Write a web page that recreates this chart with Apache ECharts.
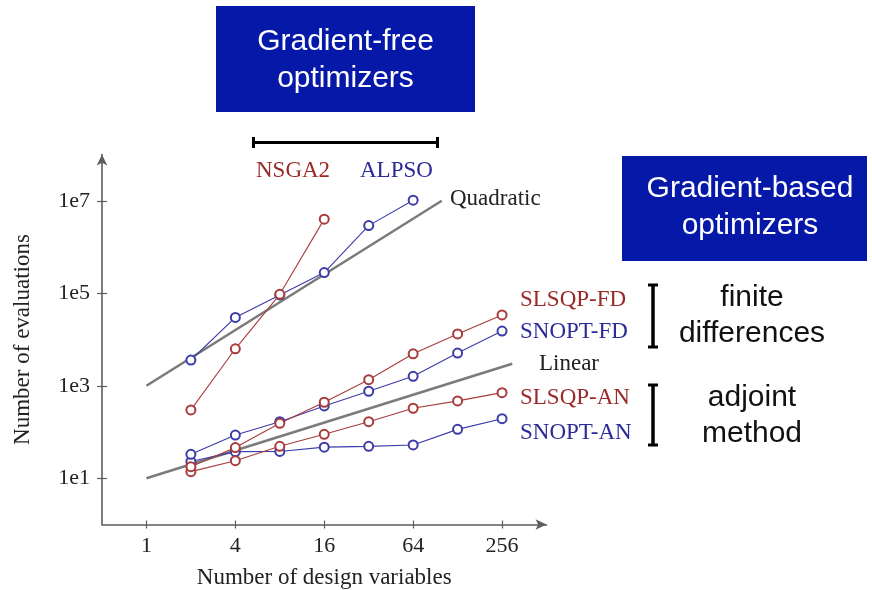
<!DOCTYPE html>
<html>
<head>
<meta charset="utf-8">
<script src="https://cdn.jsdelivr.net/npm/echarts@6/dist/echarts.min.js"></script>
<style>
  html, body { margin: 0; padding: 0; background: #ffffff; }
  #chart { width: 872px; height: 590px; }
</style>
</head>
<body>
<div id="chart"></div>
<script>
// Tick values on the log-log axes
const xTicks = [1, 4, 16, 64, 256];
const yTicks = [10, 1000, 100000, 10000000];

// Number of design variables for each run
const designVars = [2, 4, 8, 16, 32, 64, 128, 256];

// Function evaluations per optimizer
const nsga2   = [300, 6300, 95000, 4000000];                     // 2 .. 16 variables
const alpso   = [3600, 30000, 92000, 280000, 2900000, 10300000]; // 2 .. 64 variables
const slsqpFD = [17.8, 46, 154, 440, 1350, 4900, 13200, 34000];
const snoptFD = [33, 86, 167, 366, 760, 1600, 5100, 15200];
const slsqpAN = [13.9, 24, 49, 89, 167, 326, 470, 710];
const snoptAN = [23, 37.6, 38, 47, 49, 52.5, 114, 194];

// Reference scaling lines (end points)
const quadraticRef = [[1, 1000], [100, 10000000]];
const linearRef    = [[1, 10], [300, 3000]];

const RED = '#a83c3c';
const BLUE = '#3c3ca8';
const RED_TXT = '#9a2a2a';
const BLUE_TXT = '#2a2a98';
const AXIS = '#5e5e5e';
const SERIF = '"Liberation Serif", "DejaVu Serif", serif';
const SANS = '"Liberation Sans", Arial, sans-serif';
const BOX = '#0618a8';

const pair = vals => vals.map((v, i) => [designVars[i], v]);

const gridBox = { left: 102, top: 154.5, width: 444.5, height: 370, containLabel: false, outerBoundsMode: 'none' };

function markerSeries(name, vals, color) {
  return {
    name, type: 'line', xAxisIndex: 0, yAxisIndex: 0,
    data: pair(vals),
    symbol: 'emptyCircle', symbolSize: 9,
    itemStyle: { color, borderWidth: 1.1 },
    lineStyle: { color, width: 1.1 },
    z: 3, animation: false
  };
}
function refSeries(name, pts) {
  return {
    name, type: 'line', xAxisIndex: 0, yAxisIndex: 0,
    data: pts, symbol: 'none',
    lineStyle: { color: '#7b7b7b', width: 2.6 },
    z: 2, animation: false
  };
}

const tickLabelStyle = { fontFamily: SERIF, fontSize: 22, color: '#222' };

const chart = echarts.init(document.getElementById('chart'), null, { renderer: 'canvas' });

function bracketV(x, y1, y2) {
  return [
    { type: 'line', shape: { x1: x, y1: y1, x2: x, y2: y2 }, style: { stroke: '#000', lineWidth: 3.5 } },
    { type: 'line', shape: { x1: x - 5, y1: y1, x2: x + 5, y2: y1 }, style: { stroke: '#000', lineWidth: 3 } },
    { type: 'line', shape: { x1: x - 5, y1: y2, x2: x + 5, y2: y2 }, style: { stroke: '#000', lineWidth: 3 } }
  ];
}
function serifText(text, x, y, color, align) {
  return { type: 'text', x, y, style: { text, fill: color, font: '23px ' + SERIF, textAlign: align || 'left', textVerticalAlign: 'middle' } };
}
function sansText(text, x, y, color) {
  return { type: 'text', x, y, style: { text, fill: color, font: '30px ' + SANS, textAlign: 'center', textVerticalAlign: 'middle' } };
}

const option = {
  backgroundColor: '#ffffff',
  animation: false,
  grid: [
    Object.assign({}, gridBox),
    Object.assign({}, gridBox)
  ],
  xAxis: [
    {
      type: 'log', logBase: 2, min: 0.5, max: 512, gridIndex: 0,
      axisLine: { show: true, lineStyle: { color: AXIS, width: 1.6 }, symbol: ['none', 'arrow'], symbolSize: [8, 11] },
      axisTick: { show: true, length: 4, customValues: xTicks, lineStyle: { color: AXIS, width: 1.2 } },
      axisLabel: Object.assign({ customValues: xTicks, margin: 11, formatter: v => String(Math.round(v)) }, tickLabelStyle),
      splitLine: { show: false }, minorTick: { show: false },
      name: 'Number of design variables', nameLocation: 'middle', nameGap: 42,
      nameTextStyle: { fontFamily: SERIF, fontSize: 23, color: '#222' }
    },
    {
      type: 'log', logBase: 2, min: 0.5, max: 512, gridIndex: 1,
      axisLine: { show: false },
      axisTick: { show: true, inside: true, length: 4, customValues: xTicks, lineStyle: { color: AXIS, width: 1.2 } },
      axisLabel: { show: false }, splitLine: { show: false }
    }
  ],
  yAxis: [
    {
      type: 'log', logBase: 10, min: 1, max: 1e8, gridIndex: 0,
      axisLine: { show: true, lineStyle: { color: AXIS, width: 1.6 }, symbol: ['none', 'arrow'], symbolSize: [8, 11] },
      axisTick: { show: true, length: 5, customValues: yTicks, lineStyle: { color: AXIS, width: 1.2 } },
      axisLabel: Object.assign({ customValues: yTicks, margin: 12, formatter: v => '1e' + Math.round(Math.log10(v)) }, tickLabelStyle),
      splitLine: { show: false }, minorTick: { show: false },
      name: 'Number of evaluations', nameLocation: 'middle', nameGap: 68, nameRotate: 90,
      nameTextStyle: { fontFamily: SERIF, fontSize: 23, color: '#222' }
    },
    {
      type: 'log', logBase: 10, min: 1, max: 1e8, gridIndex: 1,
      axisLine: { show: false },
      axisTick: { show: true, inside: true, length: 5, customValues: yTicks, lineStyle: { color: AXIS, width: 1.2 } },
      axisLabel: { show: false }, splitLine: { show: false }
    }
  ],
  series: [
    refSeries('Quadratic', quadraticRef),
    refSeries('Linear', linearRef),
    markerSeries('SNOPT-AN', snoptAN, BLUE),
    markerSeries('SLSQP-AN', slsqpAN, RED),
    markerSeries('SNOPT-FD', snoptFD, BLUE),
    markerSeries('SLSQP-FD', slsqpFD, RED),
    markerSeries('ALPSO', alpso, BLUE),
    markerSeries('NSGA2', nsga2, RED)
  ],
  graphic: [
    // Gradient-free heading
    { type: 'rect', shape: { x: 216, y: 6, width: 259, height: 106 }, style: { fill: BOX } },
    sansText('Gradient-free', 345.5, 42, '#ffffff'),
    sansText('optimizers', 345.5, 79, '#ffffff'),
    { type: 'line', shape: { x1: 253.5, y1: 142.5, x2: 437.5, y2: 142.5 }, style: { stroke: '#000', lineWidth: 3 } },
    { type: 'line', shape: { x1: 253.5, y1: 137, x2: 253.5, y2: 148 }, style: { stroke: '#000', lineWidth: 3 } },
    { type: 'line', shape: { x1: 437.5, y1: 137, x2: 437.5, y2: 148 }, style: { stroke: '#000', lineWidth: 3 } },
    serifText('NSGA2', 256, 171, RED_TXT),
    serifText('ALPSO', 360, 171, BLUE_TXT),
    serifText('Quadratic', 450, 199, '#222'),

    // Gradient-based heading
    { type: 'rect', shape: { x: 622, y: 156, width: 245, height: 105 }, style: { fill: BOX } },
    sansText('Gradient-based', 750, 189, '#ffffff'),
    sansText('optimizers', 750, 226, '#ffffff'),

    serifText('SLSQP-FD', 520, 300, RED_TXT),
    serifText('SNOPT-FD', 520, 332, BLUE_TXT),
    serifText('Linear', 539, 364, '#222'),
    serifText('SLSQP-AN', 520, 398, RED_TXT),
    serifText('SNOPT-AN', 520, 433, BLUE_TXT),

    ...bracketV(653, 285, 347),
    ...bracketV(653, 385, 445),
    sansText('finite', 752, 298, '#111'),
    sansText('differences', 752, 334, '#111'),
    sansText('adjoint', 752, 398, '#111'),
    sansText('method', 752, 434, '#111')
  ]
};

chart.setOption(option);
</script>
</body>
</html>
